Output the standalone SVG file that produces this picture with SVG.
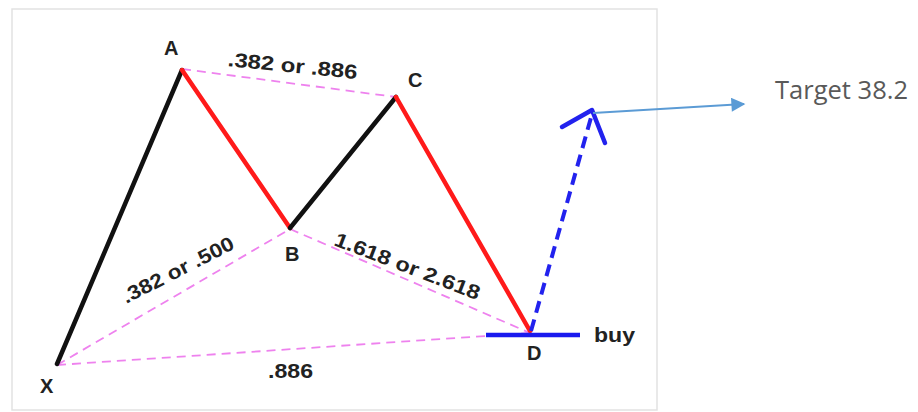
<svg xmlns="http://www.w3.org/2000/svg" width="918" height="412" viewBox="0 0 918 412">
<defs>
<style>
.lbl{font-family:"Liberation Sans",Arial,sans-serif;font-weight:bold;font-size:20px;fill:#222}
.pt{font-family:"Liberation Sans",Arial,sans-serif;font-weight:bold;font-size:20px;fill:#222}
.fib{stroke:#ee82ee;stroke-width:1.8;stroke-dasharray:9 6;fill:none}
.blk{stroke:#111;stroke-width:4.5;fill:none;stroke-linecap:round}
.red{stroke:#ff1a1a;stroke-width:4.5;fill:none;stroke-linecap:round}
</style>
<filter id="bl" x="-50%" y="-5%" width="200%" height="110%"><feGaussianBlur stdDeviation="0.8"/></filter>
<marker id="ah" viewBox="0 0 10 10" refX="9" refY="5" markerWidth="8.5" markerHeight="7" orient="auto"><path d="M0,0 L10,5 L0,10 z" fill="#5b9bd5"/></marker>
</defs>
<rect width="918" height="412" fill="#fff"/>
<g id="frame">
<rect x="12" y="9" width="645" height="401" fill="#fff" stroke="#e2e2e2" stroke-width="1.5"/>
<path d="M12,10 L12,410" stroke="#b0b0b0" stroke-width="2.5" filter="url(#bl)"/>
<path d="M657,10 L657,410" stroke="#9a9a9a" stroke-width="2.5" filter="url(#bl)"/>
</g>
<g id="connectors">
<path class="fib" d="M182,69 L396,97"/>
<path class="fib" d="M57,365 L290,229"/>
<path class="fib" d="M290,229 L530,333"/>
<path class="fib" d="M57,365 L530,333"/>
<path class="blk" d="M57,364 L182,70"/>
<path class="red" d="M182,70 L290,228"/>
<path class="blk" d="M290,228 L396,97"/>
<path class="red" d="M396,97 L530,331"/>
<path d="M531,331 L592,114" stroke="#2222ee" stroke-width="4" stroke-dasharray="12 7" fill="none"/>
<path d="M562,127 L592,110 L605,143" stroke="#2222ee" stroke-width="4.5" fill="none" stroke-linecap="round" stroke-linejoin="round"/>
<path d="M486,335 L580,335" stroke="#1a1aee" stroke-width="4.5"/>
<path d="M593,113 L744,104" stroke="#5b9bd5" stroke-width="2" fill="none" marker-end="url(#ah)"/>
</g>
<g id="X"><text class="pt" x="40" y="393">X</text></g>
<g id="A"><text class="pt" x="164" y="55">A</text></g>
<g id="B"><text class="pt" x="285" y="261">B</text></g>
<g id="C"><text class="pt" x="408" y="87">C</text></g>
<g id="D"><text class="pt" x="527" y="360">D</text></g>
<g id="buy"><text class="pt" x="594" y="342" textLength="41" lengthAdjust="spacingAndGlyphs">buy</text></g>
<g id="lbl-AC"><text class="lbl" transform="translate(292,72.5) rotate(5.7)" text-anchor="middle" textLength="130" lengthAdjust="spacingAndGlyphs">.382 or .886</text></g>
<g id="lbl-XB"><text class="lbl" transform="translate(181,276) rotate(-27)" text-anchor="middle" textLength="123" lengthAdjust="spacingAndGlyphs">.382 or .500</text></g>
<g id="lbl-BD"><text class="lbl" transform="translate(405,272.5) rotate(21)" text-anchor="middle" textLength="154" lengthAdjust="spacingAndGlyphs">1.618 or 2.618</text></g>
<g id="lbl-XD"><text class="lbl" x="268" y="378" textLength="45" lengthAdjust="spacingAndGlyphs">.886</text></g>
<g id="target"><text x="775" y="99" font-family="'Open Sans','Noto Sans',sans-serif" font-size="26" fill="#595959" textLength="133" lengthAdjust="spacingAndGlyphs">Target 38.2</text></g>
</svg>
